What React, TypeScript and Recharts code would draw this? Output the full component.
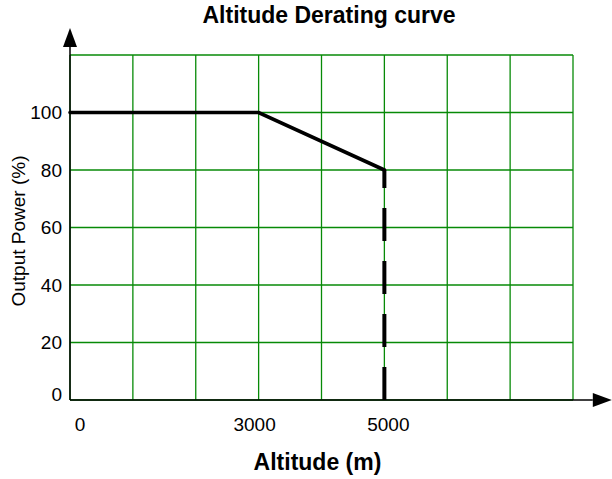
import { ComposedChart, Line, XAxis, YAxis, CartesianGrid, ReferenceLine } from "recharts";

// derating curve (solid part)
const altitude = [0, 3000, 5000];
const powerPct = [100, 100, 80];

// cut-off at 5000 m (dashed part)
const cutoffAltitude = [5000, 5000];
const cutoffPower = [0, 80];

const xTicks = [0, 1000, 2000, 3000, 4000, 5000, 6000, 7000, 8000];
const xLabels = [0, 3000, 5000];
const yTicks = [0, 20, 40, 60, 80, 100, 120];
const yLabels = [0, 20, 40, 60, 80, 100];

const solidData = altitude.map((x, i) => ({ x, y: powerPct[i] }));
const cutoffData = cutoffAltitude.map((x, i) => ({ x, y: cutoffPower[i] }));

const FONT = "'Liberation Sans', Arial, sans-serif";

const XTick = (props: any) => {
    const { x, y, payload } = props;
    if (!xLabels.includes(payload.value)) return <g />;
    const shift: Record<number, number> = { 0: 10, 3000: -4, 5000: 4 };
    return (
        <text x={x + (shift[payload.value] || 0)} y={y} dy="0.71em" textAnchor="middle" fill="#000" fontSize={19} fontFamily={FONT}>
            {payload.value}
        </text>
    );
};

const YTick = (props: any) => {
    const { x, y, payload } = props;
    if (!yLabels.includes(payload.value)) return <g />;
    return (
        <text x={x} y={y + (payload.value === 0 ? -6 : 0)} dy="0.36em" textAnchor="end" fill="#000" fontSize={19} fontFamily={FONT}>
            {payload.value}
        </text>
    );
};

// axis line with a filled arrow head at the far end
const ArrowAxis = (props: any) => {
    const { x1, y1, x2, y2 } = props;
    const a = Math.atan2(y2 - y1, x2 - x1);
    const len = 19;
    const half = 7;
    const bx = x2 - len * Math.cos(a);
    const by = y2 - len * Math.sin(a);
    const px = -Math.sin(a) * half;
    const py = Math.cos(a) * half;
    return (
        <g>
            <line x1={x1} y1={y1} x2={bx} y2={by} stroke="#000" strokeWidth={1.5} />
            <polygon points={`${x2},${y2} ${bx + px},${by + py} ${bx - px},${by - py}`} fill="#000" />
        </g>
    );
};

export default function App() {
    return (
        <div style={{ position: "relative", width: 612, height: 479, background: "#fff", fontFamily: FONT }}>
            <style>{"body{margin:0}"}</style>
            <ComposedChart width={612} height={479} margin={{ top: 55, right: 39, bottom: 0, left: 0 }}>
                <CartesianGrid stroke="#078a07" strokeWidth={1.3} />
                <XAxis
                    type="number"
                    dataKey="x"
                    domain={[0, 8000]}
                    ticks={xTicks}
                    interval={0}
                    height={79}
                    tickMargin={12}
                    axisLine={false}
                    tickLine={false}
                    tick={<XTick />}
                />
                <YAxis
                    type="number"
                    domain={[0, 120]}
                    ticks={yTicks}
                    interval={0}
                    width={70}
                    axisLine={false}
                    tickLine={false}
                    tick={<YTick />}
                />
                <ReferenceLine segment={[{ x: 0, y: 0 }, { x: 0, y: 129.4 }]} ifOverflow="visible" shape={<ArrowAxis />} />
                <ReferenceLine segment={[{ x: 0, y: 0 }, { x: 8617, y: 0 }]} ifOverflow="visible" shape={<ArrowAxis />} />
                <Line
                    data={solidData}
                    dataKey="y"
                    type="linear"
                    stroke="#000"
                    strokeWidth={3.6}
                    strokeLinecap="round"
                    dot={false}
                    activeDot={false}
                    isAnimationActive={false}
                />
                <Line
                    data={cutoffData}
                    dataKey="y"
                    type="linear"
                    stroke="#000"
                    strokeWidth={4}
                    strokeDasharray="33 20"
                    dot={false}
                    activeDot={false}
                    isAnimationActive={false}
                />
            </ComposedChart>
            <svg width={612} height={479} style={{ position: "absolute", left: 0, top: 0, pointerEvents: "none" }}>
                <text x={329} y={23} textAnchor="middle" fontSize={23} fontWeight="bold" fontFamily={FONT} fill="#000">
                    Altitude Derating curve
                </text>
                <text x={317.5} y={470} textAnchor="middle" fontSize={23} fontWeight="bold" fontFamily={FONT} fill="#000">
                    Altitude (m)
                </text>
                <text x={25} y={231} transform="rotate(-90 25 231)" textAnchor="middle" fontSize={19} fontFamily={FONT} fill="#000">
                    Output Power (%)
                </text>
            </svg>
        </div>
    );
}
